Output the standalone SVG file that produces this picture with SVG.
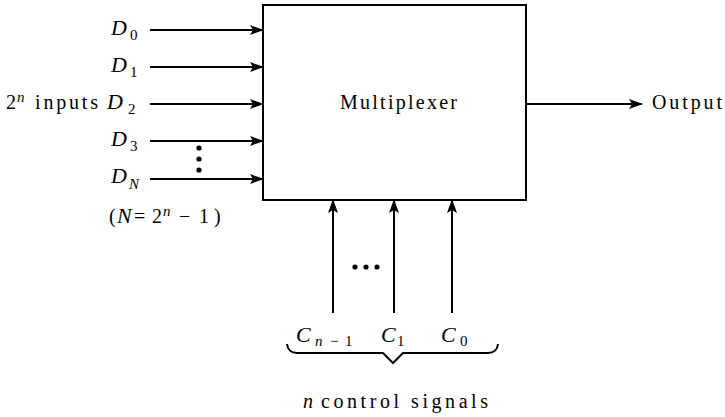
<svg xmlns="http://www.w3.org/2000/svg" width="725" height="417" viewBox="0 0 725 417">
<style>
text{font-family:"Liberation Serif","Times New Roman",serif;font-size:20px;fill:#000}
.i{font-style:italic}
.b{font-style:italic;font-size:22px}
.s{font-size:15px}
.c{stroke:#000;stroke-width:2;fill:none}
</style>
<defs>
<marker id="ah" markerWidth="14" markerHeight="10" refX="13" refY="5" orient="auto" markerUnits="userSpaceOnUse">
<path d="M0,0 L14,5 L0,10 L3,5 Z" fill="#000"/>
</marker>
</defs>
<g id="mux">
<rect x="263" y="5" width="263" height="195" fill="#fff" stroke="#000" stroke-width="2"/>
<text x="340" y="109" textLength="117" lengthAdjust="spacing">Multiplexer</text>
</g>
<g id="inputs">
<text x="111" y="35"><tspan class="b">D</tspan><tspan class="s" x="130" dy="5">0</tspan></text>
<text x="111" y="72"><tspan class="b">D</tspan><tspan class="s" x="130" dy="5">1</tspan></text>
<text x="107" y="109"><tspan class="b">D</tspan><tspan class="s" x="128" dy="5">2</tspan></text>
<text x="111" y="146"><tspan class="b">D</tspan><tspan class="s" x="130" dy="5">3</tspan></text>
<text x="111" y="183"><tspan class="b">D</tspan><tspan class="s i" x="129" dy="6">N</tspan></text>
<circle cx="199" cy="148" r="2.6"/>
<circle cx="199" cy="159" r="2.6"/>
<circle cx="199" cy="170" r="2.6"/>
</g>
<g id="inputs-label">
<text x="6" y="109">2<tspan class="s i" x="17" dy="-7">n</tspan><tspan x="35" dy="7" textLength="63" lengthAdjust="spacing">inputs</tspan></text>
<text x="109" y="223">(<tspan class="b" x="117">N</tspan><tspan x="134">=</tspan><tspan x="152">2</tspan><tspan class="s i" x="163" dy="-7">n</tspan><tspan x="179" dy="7">−</tspan><tspan x="199">1</tspan><tspan x="214">)</tspan></text>
</g>
<g id="output">
<text x="652" y="109" textLength="70" lengthAdjust="spacing">Output</text>
</g>
<g id="controls">
<text x="296" y="342"><tspan class="b">C</tspan><tspan class="s i" x="315" dy="4">n</tspan><tspan class="s" x="330">−</tspan><tspan class="s" x="345">1</tspan></text>
<text x="381" y="342"><tspan class="b">C</tspan><tspan class="s" x="397" dy="4">1</tspan></text>
<text x="441" y="342"><tspan class="b">C</tspan><tspan class="s" x="460" dy="4">0</tspan></text>
<circle cx="355" cy="267" r="2.6"/>
<circle cx="366" cy="267" r="2.6"/>
<circle cx="377" cy="267" r="2.6"/>
<path class="c" stroke-width="1.5" d="M287,344 Q288,353 297,353 L383,353 L393,363 L403,353 L488,353 Q497,353 498,344"/>
<text x="303" y="408"><tspan class="i">n</tspan><tspan x="321" textLength="167" lengthAdjust="spacing">control signals</tspan></text>
</g>
<g id="connectors">
<line class="c" x1="150" y1="30" x2="263" y2="30" marker-end="url(#ah)"/>
<line class="c" x1="150" y1="67" x2="263" y2="67" marker-end="url(#ah)"/>
<line class="c" x1="150" y1="104" x2="263" y2="104" marker-end="url(#ah)"/>
<line class="c" x1="150" y1="141" x2="263" y2="141" marker-end="url(#ah)"/>
<line class="c" x1="150" y1="179" x2="263" y2="179" marker-end="url(#ah)"/>
<line class="c" x1="526" y1="104" x2="642" y2="104" marker-end="url(#ah)"/>
<line class="c" x1="333" y1="313" x2="333" y2="200" marker-end="url(#ah)"/>
<line class="c" x1="394" y1="313" x2="394" y2="200" marker-end="url(#ah)"/>
<line class="c" x1="452" y1="313" x2="452" y2="200" marker-end="url(#ah)"/>
</g>
</svg>
